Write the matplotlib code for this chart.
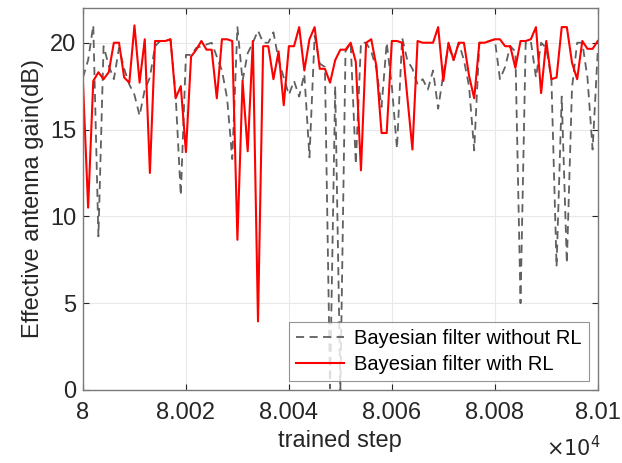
import numpy as np
import matplotlib
matplotlib.use("Agg")
import matplotlib.pyplot as plt
from matplotlib.ticker import FuncFormatter

# training steps 80000 .. 80100
steps = np.arange(80000, 80101)

gain_rl = [17.7, 10.5, 17.8, 18.3, 17.9, 18.3, 20.0, 20.0, 18.0, 17.7,
           21.0, 17.7, 20.2, 12.5, 20.1, 20.1, 20.1, 20.2, 16.8, 17.5,
           13.7, 19.2, 19.6, 20.1, 19.6, 19.6, 16.8, 20.2, 20.2, 20.1,
           8.65, 17.8, 13.75, 20.1, 3.95, 19.8, 19.8, 17.9, 19.5, 16.4,
           19.8, 19.8, 20.9, 18.4, 20.2, 20.9, 18.5, 18.5, 17.7, 19.0,
           19.6, 19.6, 20.0, 18.9, 12.65, 20.0, 20.2, 18.65, 14.8, 14.8,
           20.1, 20.1, 20.0, 16.9, 13.85, 20.1, 20.0, 20.0, 20.0, 20.9,
           17.8, 20.0, 19.0, 20.0, 20.0, 18.1, 16.8, 20.0, 20.0, 20.1,
           20.2, 20.2, 19.8, 19.8, 18.55, 20.1, 20.1, 20.2, 20.9, 17.1,
           20.1, 17.9, 18.0, 20.9, 20.9, 18.85, 17.9, 20.1, 19.65, 19.65,
           20.1]

gain_no_rl = [18.0, 19.0, 21.0, 8.85, 19.8, 18.7, 17.9, 19.7, 18.5, 17.6,
              17.0, 15.8, 17.3, 18.0, 19.8, 20.1, 20.1, 20.2, 17.0, 11.2,
              19.3, 19.3, 19.7, 19.8, 19.9, 20.0, 19.2, 18.4, 16.8, 13.3,
              20.9, 17.8, 19.4, 20.0, 20.7, 20.0, 20.0, 20.6, 19.0, 18.0,
              17.0, 17.8, 16.9, 18.2, 13.4, 20.4, 18.8, 18.6, 0.1, 17.5,
              0.0, 19.5, 20.0, 13.0, 20.0, 20.0, 19.5, 18.5, 16.3, 20.0,
              17.5, 13.9, 20.3, 19.0, 18.5, 17.6, 17.9, 17.3, 18.4, 16.2,
              18.2, 19.8, 19.0, 20.0, 19.0, 17.5, 13.8, 20.0, 20.0, 20.1,
              20.2, 17.9, 18.6, 19.8, 19.5, 5.0, 20.0, 20.1, 18.0, 20.0,
              19.7, 17.9, 7.1, 16.9, 7.3, 17.4, 20.0, 20.0, 18.0, 13.85,
              19.5]

xticks = [80000, 80020, 80040, 80060, 80080, 80100]
yticks = [0, 5, 10, 15, 20]

plt.rcParams['font.family'] = ['Liberation Sans', 'DejaVu Sans']

fig = plt.figure(figsize=(6.22, 4.63), dpi=100)
ax = fig.add_axes([0.1334, 0.1577, 0.8276, 0.825])

ax.plot(steps, gain_no_rl, color='#606060', linestyle=(0, (4.5, 3)), linewidth=1.3,
        label='Bayesian filter without RL')
ax.plot(steps, gain_rl, color='#ff0000', linewidth=1.5,
        label='Bayesian filter with RL')

ax.set_xlim(80000, 80100)
ax.set_ylim(0, 22)
ax.set_xticks(xticks)
ax.set_yticks(yticks)
ax.xaxis.set_major_formatter(FuncFormatter(lambda v, p: '%g' % round(v / 1e4, 4)))
ax.tick_params(direction='in', top=True, right=True, labelsize=17, colors='#262626',
               length=4, width=0.8)
ax.tick_params(axis='x', pad=9)
ax.tick_params(axis='y', pad=5)
for s in ax.spines.values():
    s.set_color('#7a7a7a')
    s.set_linewidth(1.0)
ax.grid(True, color='#e8e8e8', linewidth=0.8)
ax.set_axisbelow(True)

ax.set_xlabel('trained step', fontsize=17, color='#262626', labelpad=4)
ax.set_ylabel('Effective antenna gain(dB)', fontsize=17, color='#262626', labelpad=4)
ax.text(1.005, -0.15, r'$\times10^{4}$', transform=ax.transAxes, ha='right', va='center',
        fontsize=15, color='#262626')

leg = ax.legend(loc='lower right', fontsize=14.5, frameon=True, fancybox=False,
                edgecolor='#7a7a7a', handlelength=2.4, handletextpad=0.5,
                borderpad=0.35, labelspacing=0.35, borderaxespad=0.45)
leg.get_frame().set_linewidth(0.8)

fig.savefig('out.png', dpi=100)
